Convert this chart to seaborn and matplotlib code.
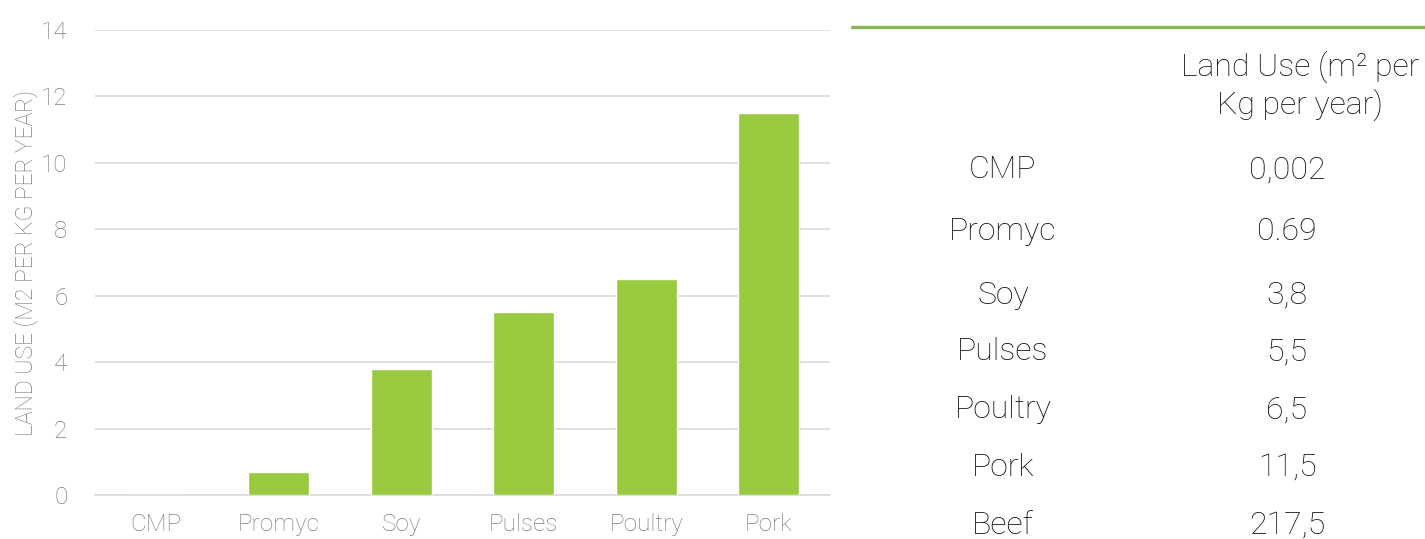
import matplotlib
matplotlib.use("Agg")
import matplotlib.pyplot as plt
import seaborn as sns
import pandas as pd
from matplotlib.lines import Line2D

# Chart data
categories = ["CMP", "Promyc", "Soy", "Pulses", "Poultry", "Pork"]
land_use = [0.002, 0.69, 3.8, 5.5, 6.5, 11.5]

# Side table data
table_items = ["CMP", "Promyc", "Soy", "Pulses", "Poultry", "Pork", "Beef"]
table_values = ["0,002", "0.69", "3,8", "5,5", "6,5", "11,5", "217,5"]
table_header = "Land Use (m² per\nKg per year)"

sns.set_theme(style="white")
plt.rcParams["font.family"] = ["Roboto", "DejaVu Sans"]

fig = plt.figure(figsize=(14.25, 5.39), dpi=100)
ax = fig.add_axes([0.0667, 0.0816, 0.5158, 0.8627])

df = pd.DataFrame({"item": categories, "value": land_use})
sns.barplot(data=df, x="item", y="value", color="#99c93f", width=0.5,
            saturation=1, ax=ax, zorder=3)

ax.set_ylim(0, 14)
ax.set_yticks(range(0, 15, 2))
ax.set_xlim(-0.5, len(categories) - 0.5)
ax.yaxis.grid(True, color="#d9d9d9", linewidth=1.2, zorder=0)
ax.xaxis.grid(False)
for s in ["top", "right", "left"]:
    ax.spines[s].set_visible(False)
ax.spines["bottom"].set_color("#d9d9d9")
ax.spines["bottom"].set_linewidth(1.2)
ax.tick_params(axis="both", length=0, colors="#7f7f7f", labelsize=17.5)
ax.tick_params(axis="y", pad=20)
ax.tick_params(axis="x", pad=13)
for lbl in ax.get_xticklabels() + ax.get_yticklabels():
    lbl.set_fontweight("light")
ax.set_xlabel("")
ax.set_ylabel("LAND USE (M2 PER KG PER YEAR)", color="#7f7f7f", fontsize=16.5,
              fontweight="light", labelpad=2)

# Side table
fig.add_artist(Line2D([852 / 1425, 1.0], [1 - 27 / 539, 1 - 27 / 539],
                      transform=fig.transFigure, color="#8db65a", linewidth=2.5))
fig.text(1300 / 1425, 1 - 86 / 539, table_header, ha="center", va="center",
         fontsize=23, color="#111111", fontweight="light", linespacing=1.2)
row_y = [170, 232, 295, 352, 410, 467, 525]
for name, val, y in zip(table_items, table_values, row_y):
    fig.text(1003 / 1425, 1 - y / 539, name, ha="center", va="center",
             fontsize=23, color="#111111", fontweight="light")
    fig.text(1287 / 1425, 1 - y / 539, val, ha="center", va="center",
             fontsize=23, color="#111111", fontweight="light")

fig.savefig("out.png", dpi=100, facecolor="white")
